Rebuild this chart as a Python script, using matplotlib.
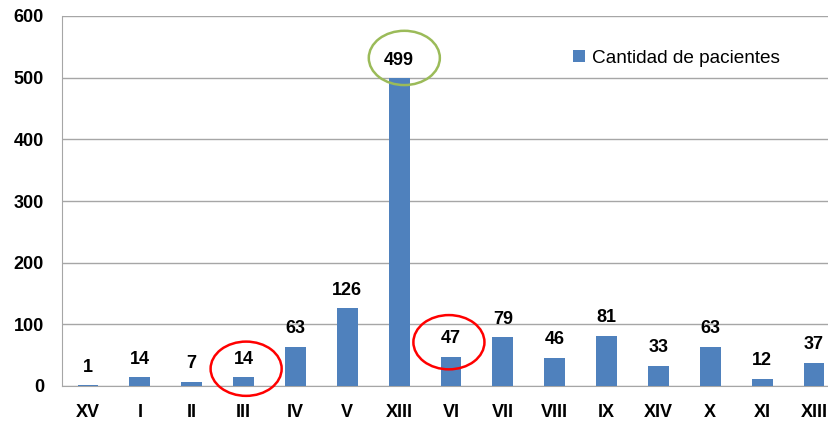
import matplotlib.pyplot as plt
from matplotlib.patches import Ellipse
import numpy as np

# data
categories = ['XV', 'I', 'II', 'III', 'IV', 'V', 'XIII', 'VI', 'VII', 'VIII', 'IX', 'XIV', 'X', 'XI', 'XIII']
pacientes = [1, 14, 7, 14, 63, 126, 499, 47, 79, 46, 81, 33, 63, 12, 37]
y_ticks = [0, 100, 200, 300, 400, 500, 600]

# highlighted labels (index, ellipse offsets, colour)
marked_idx = [3, 7, 6]
marked_dx = [0.05, -0.04, 0.1]
marked_dy = [14, 24, 33]
marked_col = ['#FF0000', '#FF0000', '#9BBB59']

bar_col = '#4F81BD'
grid_col = '#A6A6A6'

fig = plt.figure(figsize=(8.29, 4.25), dpi=100)
ax = fig.add_axes([62 / 829, 39 / 425, 778 / 829, 370 / 425])

x = np.arange(len(categories))
bars = ax.bar(x, pacientes, width=0.4, color=bar_col, label='Cantidad de pacientes', zorder=3)

# value labels
for xi, v in zip(x, pacientes):
    ax.annotate(str(v), (xi, v), xytext=(0, 7), textcoords='offset points',
                ha='center', va='bottom', fontsize=13, fontweight='bold',
                family='Liberation Sans', color='black', zorder=4)

# ellipses around some labels
for i, dx, dy, c in zip(marked_idx, marked_dx, marked_dy, marked_col):
    e = Ellipse((x[i] + dx, pacientes[i] + dy), width=1.37, height=88, fill=False,
                edgecolor=c, linewidth=1.8, zorder=5, clip_on=False)
    ax.add_patch(e)

ax.set_xlim(-0.5, len(categories) - 0.5)
ax.set_ylim(0, 600)
ax.set_yticks(y_ticks)
ax.set_xticks(x)
ax.set_xticklabels(categories)

for lbl in ax.get_xticklabels() + ax.get_yticklabels():
    lbl.set_fontsize(13)
    lbl.set_fontweight('bold')
    lbl.set_family('Liberation Sans')

ax.tick_params(axis='both', length=0)
ax.tick_params(axis='x', pad=13)
ax.tick_params(axis='y', pad=13)

ax.grid(axis='y', color=grid_col, linewidth=1, zorder=0)
for s in ['top', 'right']:
    ax.spines[s].set_visible(False)
ax.spines['left'].set_color(grid_col)
ax.spines['bottom'].set_color(grid_col)

ax.legend(loc='upper left', bbox_to_anchor=(494 / 778, 0.955), frameon=False,
          prop={'family': 'Liberation Sans', 'size': 13.7},
          handlelength=0.65, handleheight=0.65, handletextpad=0.35)

fig.savefig('out.png', dpi=100)
